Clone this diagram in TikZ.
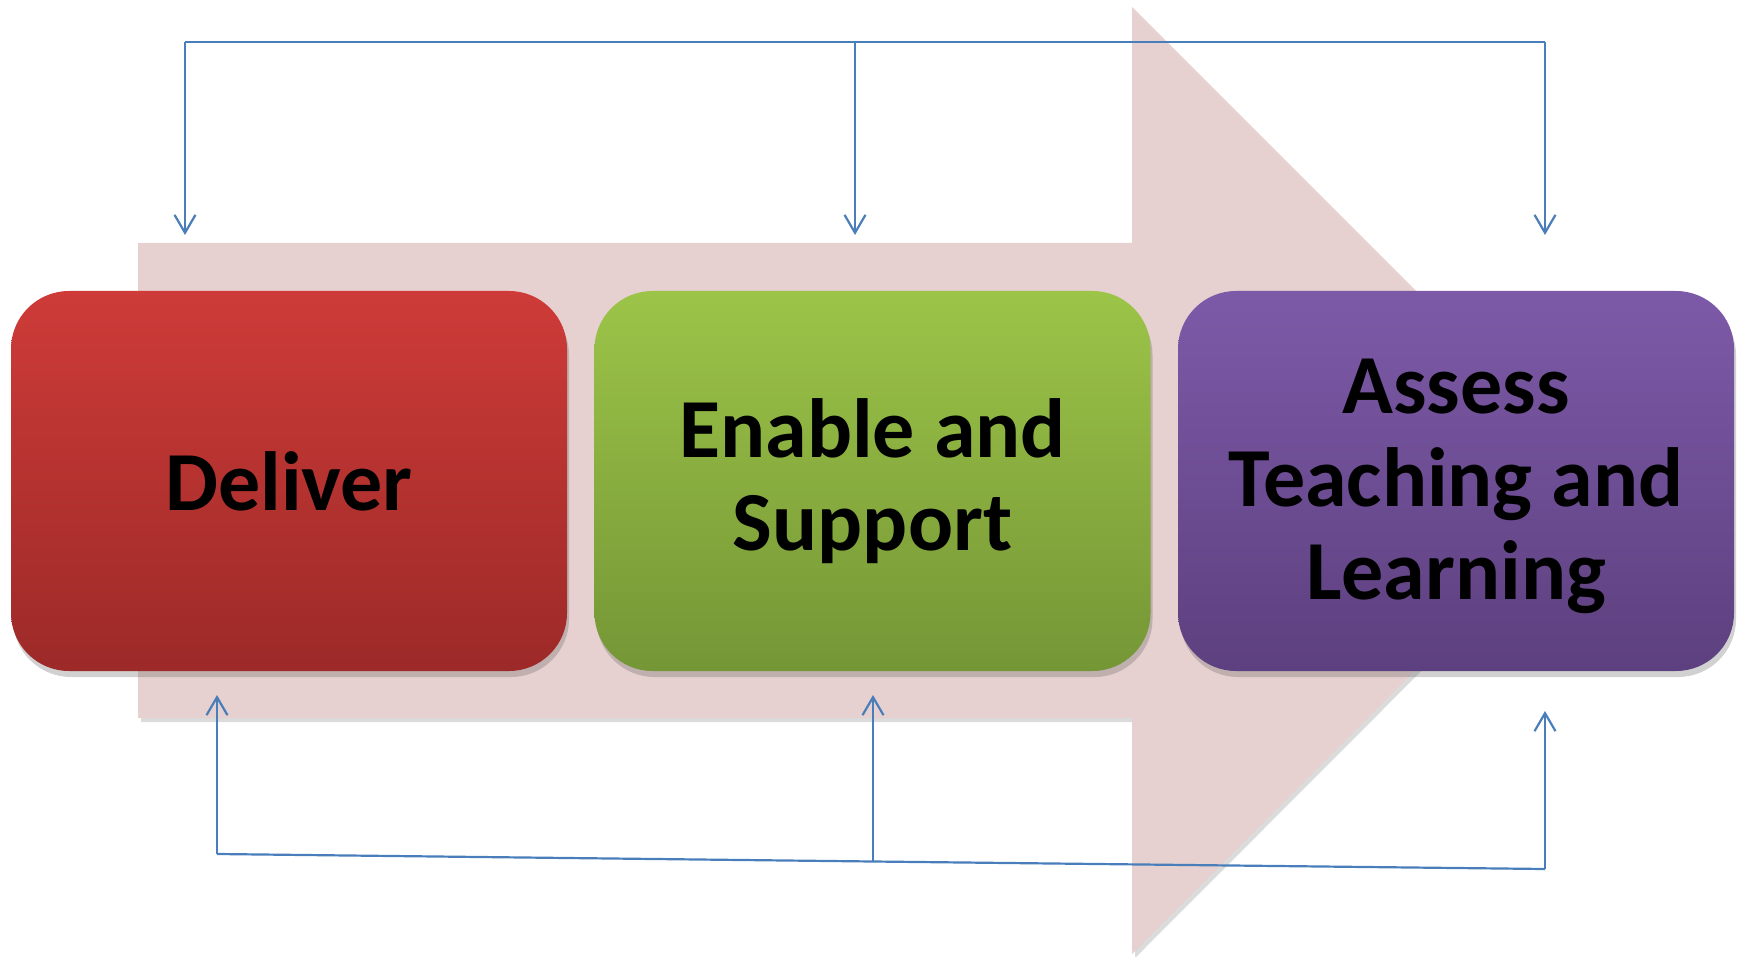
\documentclass[tikz,border=0pt]{standalone}
\usepackage{fontspec}
\setmainfont{Carlito}
\usetikzlibrary{arrows.meta,shadows}
\definecolor{pinkarrow}{RGB}{230,208,208}
\definecolor{conn}{RGB}{74,126,187}
\definecolor{redtop}{RGB}{206,59,56}
\definecolor{redbot}{RGB}{156,42,40}
\definecolor{greentop}{RGB}{156,196,72}
\definecolor{greenbot}{RGB}{117,150,54}
\definecolor{purpletop}{RGB}{125,90,168}
\definecolor{purplebot}{RGB}{93,64,127}
\tikzset{
  stagebox/.style={rectangle, rounded corners=58pt, minimum width=556pt, minimum height=380pt,
    inner sep=0pt, align=center, text=black,
    font=\fontsize{84}{93}\selectfont\bfseries,
    drop shadow={shadow xshift=2pt, shadow yshift=-6pt, opacity=0.3, fill=black!60}},
  connline/.style={draw=conn, line width=2.2pt},
  connarrow/.style={connline, -{Straight Barb[length=18pt,width=21pt,line width=2.2pt]}}
}
\begin{document}
\begin{tikzpicture}[x=1pt,y=-1pt]
\useasboundingbox (0,0) rectangle (1745,957);
% big background arrow
\fill[pinkarrow, drop shadow={shadow xshift=3pt, shadow yshift=-4pt, opacity=0.2, fill=black!70}]
  (138,243) -- (1132,243) -- (1132,7) -- (1605,480) -- (1132,954) -- (1132,718) -- (138,718) -- cycle;
% stage boxes
\node[stagebox, top color=redtop, bottom color=redbot] (deliver) at (289,481) {Deliver};
\node[stagebox, top color=greentop, bottom color=greenbot] (enable) at (872.5,481) {Enable and\\Support};
\node[stagebox, top color=purpletop, bottom color=purplebot] (assess) at (1456,481) {\raisebox{-5pt}[\height][\depth]{\parbox{556pt}{\centering Assess\\Teaching and\\Learning}}};
% top connector
\coordinate (tl) at (185,42);
\coordinate (tm) at (855,42);
\coordinate (tr) at (1545,42);
\coordinate (ta1) at (185,235);
\coordinate (ta2) at (855,235);
\coordinate (ta3) at (1545,235);
\draw[connline] (tl) -- (tr);
\draw[connarrow] (tl) -- (ta1);
\draw[connarrow] (tm) -- (ta2);
\draw[connarrow] (tr) -- (ta3);
% bottom connector
\coordinate (bl) at (217,854);
\coordinate (bm) at (873,861.5);
\coordinate (br) at (1545,869);
\coordinate (ba1) at (217,695);
\coordinate (ba2) at (873,695);
\coordinate (ba3) at (1545,711);
\draw[connline] (bl) -- (bm) -- (br);
\draw[connarrow] (bl) -- (ba1);
\draw[connarrow] (bm) -- (ba2);
\draw[connarrow] (br) -- (ba3);
\end{tikzpicture}
\end{document}
